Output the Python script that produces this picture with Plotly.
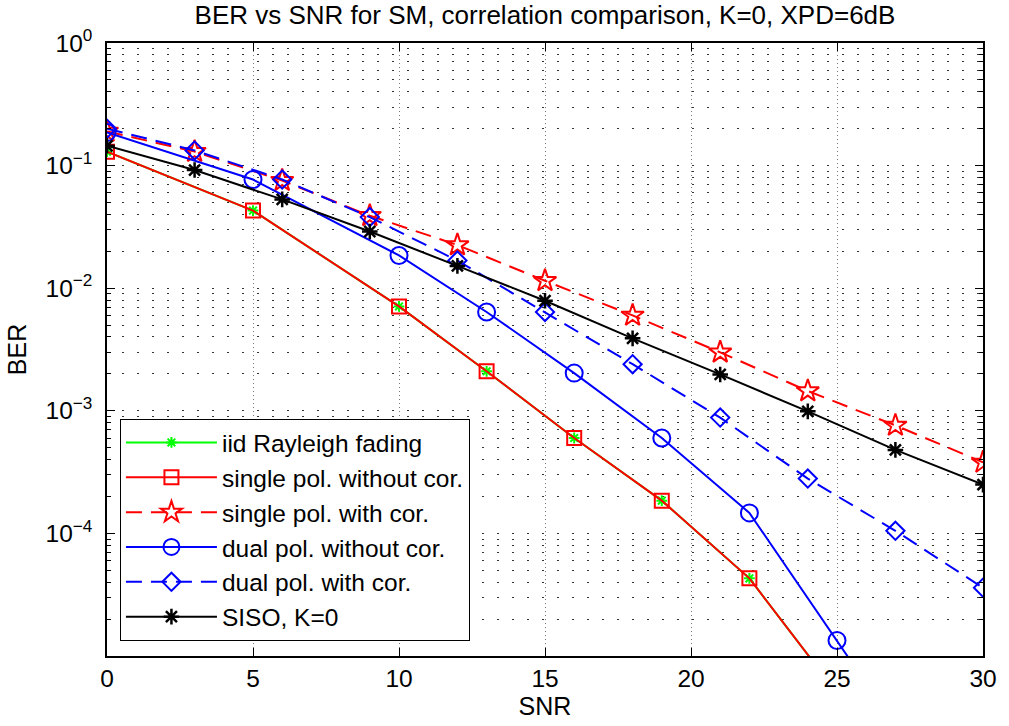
import plotly.graph_objects as go

# ---------------- data ----------------
snr_a = [0, 5, 10, 13, 16, 19, 22, 25]
snr_b = [0, 5, 10, 13, 16, 19, 22, 25, 28]
snr_c = [0, 3, 6, 9, 12, 15, 18, 21, 24, 27, 30]

ber_iid = [0.13, 0.043, 0.0071, 0.0021, 6.0e-4, 1.85e-4, 4.3e-5, 5.0e-6]
ber_single_nocor = [0.13, 0.043, 0.0071, 0.0021, 6.0e-4, 1.85e-4, 4.3e-5, 5.0e-6]
ber_single_cor = [0.19, 0.13, 0.0755, 0.039, 0.0225, 0.0115, 0.0060, 0.0030, 1.45e-3, 7.6e-4, 3.8e-4]
ber_dual_nocor = [0.186, 0.077, 0.0185, 0.0064, 0.00203, 6.0e-4, 1.47e-4, 1.34e-5, 1.2e-6]
ber_dual_cor = [0.20, 0.133, 0.077, 0.038, 0.0168, 0.0064, 0.0024, 8.8e-4, 2.8e-4, 1.05e-4, 3.6e-5]
ber_siso = [0.145, 0.092, 0.053, 0.029, 0.0152, 0.0079, 0.0039, 0.00198, 9.9e-4, 4.8e-4, 2.5e-4]

names = ["iid Rayleigh fading", "single pol. without cor.", "single pol. with cor.",
         "dual pol. without cor.", "dual pol. with cor.", "SISO, K=0"]

x_ticks = [0, 5, 10, 15, 20, 25, 30]
y_ticks = [1e-4, 1e-3, 1e-2, 1e-1, 1]
y_ticktext = ["10<sup>\u22124</sup>", "10<sup>\u22123</sup>", "10<sup>\u22122</sup>",
              "10<sup>\u22121</sup>", "10<sup>0</sup>"]
y_minor = [m * 10.0 ** e for e in range(-5, 0) for m in range(2, 10)]

FONT = "Liberation Sans, Arial, Helvetica, sans-serif"
DASH = "16px,9px"

fig = go.Figure()
fig.add_trace(go.Scatter(x=snr_a, y=ber_iid, name=names[0], mode="lines+markers",
                         line=dict(color="#00ff00", width=2),
                         marker=dict(symbol="asterisk-open", size=9, color="#00ff00",
                                     line=dict(color="#00ff00", width=2))))
fig.add_trace(go.Scatter(x=snr_a, y=ber_single_nocor, name=names[1], mode="lines+markers",
                         line=dict(color="#ff0000", width=2),
                         marker=dict(symbol="square-open", size=14, color="#ff0000",
                                     line=dict(color="#ff0000", width=2))))
fig.add_trace(go.Scatter(x=snr_c, y=ber_single_cor, name=names[2], mode="lines+markers",
                         line=dict(color="#ff0000", width=2, dash=DASH),
                         marker=dict(symbol="star-open", size=17, color="#ff0000",
                                     line=dict(color="#ff0000", width=2))))
fig.add_trace(go.Scatter(x=snr_b, y=ber_dual_nocor, name=names[3], mode="lines+markers",
                         line=dict(color="#0000ff", width=2),
                         marker=dict(symbol="circle-open", size=17, color="#0000ff",
                                     line=dict(color="#0000ff", width=2))))
fig.add_trace(go.Scatter(x=snr_c, y=ber_dual_cor, name=names[4], mode="lines+markers",
                         line=dict(color="#0000ff", width=2, dash=DASH),
                         marker=dict(symbol="diamond-open", size=14, color="#0000ff",
                                     line=dict(color="#0000ff", width=2))))
fig.add_trace(go.Scatter(x=snr_c, y=ber_siso, name=names[5], mode="lines+markers",
                         line=dict(color="#000000", width=2),
                         marker=dict(symbol="asterisk-open", size=13, color="#000000",
                                     line=dict(color="#000000", width=2.5))))

fig.update_layout(
    width=1009, height=726, autosize=False,
    margin=dict(l=107, r=22, t=43, b=70),
    paper_bgcolor="white", plot_bgcolor="white",
    font=dict(family=FONT, size=25, color="black"),
    title=dict(text="BER vs SNR for SM, correlation comparison, K=0, XPD=6dB",
               x=0.5, xref="paper", xanchor="center",
               y=1 - 15 / 726, yref="container", yanchor="middle",
               font=dict(family=FONT, size=26, color="black")),
    showlegend=True,
    legend=dict(x=13 / 880, xanchor="left", y=15 / 613, yanchor="bottom",
                bgcolor="white", bordercolor="black", borderwidth=1,
                font=dict(family=FONT, size=24.5, color="black"),
                itemwidth=91, tracegroupgap=0, itemsizing="trace"),
)

fig.update_xaxes(
    range=[0, 30], tickvals=x_ticks, ticks="inside", ticklen=8, tickwidth=1,
    tickcolor="black", showline=True, linecolor="black", linewidth=1.5,
    mirror="allticks", zeroline=False,
    showgrid=True, gridcolor="#777777", gridwidth=1, griddash="1px,3px",
    tickfont=dict(family=FONT, size=24.5, color="black"),
    title=dict(text="SNR", font=dict(family=FONT, size=25, color="black"), standoff=4),
)
fig.update_yaxes(
    type="log", range=[-5, 0], tickvals=y_ticks, ticktext=y_ticktext,
    ticks="inside", ticklen=8, tickwidth=1, tickcolor="black",
    showline=True, linecolor="black", linewidth=1.5, mirror="allticks", zeroline=False,
    showgrid=True, gridcolor="#333333", gridwidth=1, griddash="2px,13px",
    minor=dict(tickvals=y_minor, ticks="inside", ticklen=4, tickcolor="black", tickwidth=1,
               showgrid=True, gridcolor="#333333", gridwidth=1, griddash="2px,13px"),
    tickfont=dict(family=FONT, size=24.5, color="black"),
    ticklabelstandoff=8,
    title=dict(text="BER", font=dict(family=FONT, size=25, color="black"), standoff=12),
)

fig.write_html("out.html")
